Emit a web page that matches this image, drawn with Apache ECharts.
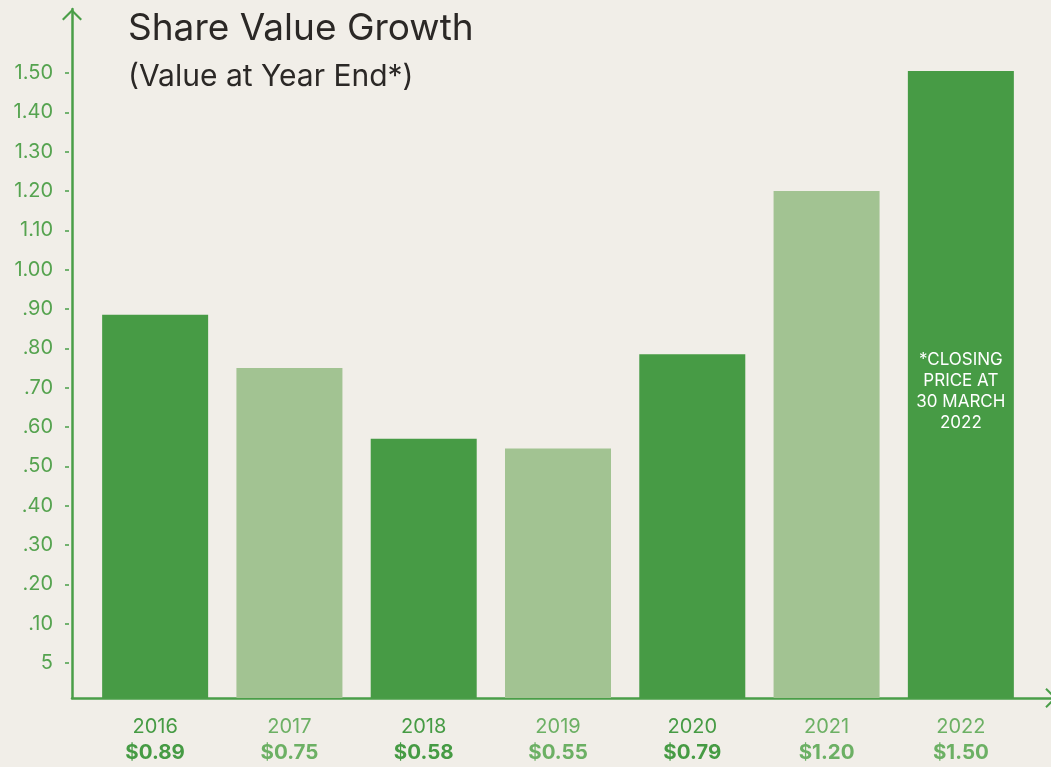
<!DOCTYPE html>
<html>
<head>
<meta charset="utf-8">
<title>Share Value Growth</title>
<script src="https://cdn.jsdelivr.net/npm/echarts@6/dist/echarts.min.js"></script>
<style>
  html, body { margin: 0; padding: 0; background: #f1eee8; }
  #chart { width: 1051px; height: 767px; }
</style>
</head>
<body>
<div id="chart"></div>
<script>
'use strict';

// data
var years = ['2016', '2017', '2018', '2019', '2020', '2021', '2022'];
var shareValues = [0.885, 0.75, 0.57, 0.545, 0.785, 1.20, 1.505];
var priceLabels = ['$0.89', '$0.75', '$0.58', '$0.55', '$0.79', '$1.20', '$1.50'];
var tickValues = [0, 0.1, 0.2, 0.3, 0.4, 0.5, 0.6, 0.7, 0.8, 0.9, 1.0, 1.1, 1.2, 1.3, 1.4, 1.5];
var tickLabels = ['5', '.10', '.20', '.30', '.40', '.50', '.60', '.70', '.80', '.90', '1.00', '1.10', '1.20', '1.30', '1.40', '1.50'];
var noteText = '*CLOSING\nPRICE AT\n30 MARCH\n2022';

// styles
var DARK = '#479b45';
var LIGHT = '#a2c392';
var LABEL_DARK = '#469b44';
var LABEL_LIGHT = '#6cb064';
var AXIS = '#4a9e48';
var FONT = 'Inter, "Noto Sans", sans-serif';
var barColors = [DARK, LIGHT, DARK, LIGHT, DARK, LIGHT, DARK];
var labelTone = ['d', 'l', 'd', 'l', 'd', 'l', 'l'];

var Y_MIN = -0.089;
var Y_MAX = 1.51;

// open chevron used as axis arrow
var chevron = 'path://M0,10 L10,0 L20,10 L18.5,11.4 L10,2.9 L1.5,11.4 Z';

var mainData = shareValues.map(function (v, i) {
    var item = { value: v, itemStyle: { color: barColors[i] } };
    if (i === years.length - 1) {
        item.label = {
            show: true,
            position: 'inside',
            offset: [0, 24],
            formatter: noteText,
            color: '#ffffff',
            fontFamily: FONT,
            fontSize: 17,
            lineHeight: 21
        };
    }
    return item;
});
// fills the strip below zero down to the axis line
var baseData = years.map(function (y, i) {
    return { value: Y_MIN, itemStyle: { color: barColors[i] } };
});

var option = {
    backgroundColor: '#f1eee8',
    animation: false,
    title: [
        {
            text: 'Share Value Growth',
            left: 123, top: 5,
            textStyle: { fontFamily: FONT, fontSize: 37, fontWeight: 'normal', color: '#2b2826' }
        },
        {
            text: '(Value at Year End*)',
            left: 123, top: 57,
            textStyle: { fontFamily: FONT, fontSize: 30, fontWeight: 'normal', color: '#2b2826' }
        }
    ],
    grid: [
        { left: 88, right: 23, top: 69, bottom: 69 },
        { left: 72, right: 0, top: 9, bottom: 69 }
    ],
    xAxis: [
        {
            gridIndex: 0,
            type: 'category',
            data: years,
            axisLine: { show: false },
            axisTick: { show: false },
            axisLabel: {
                margin: 16,
                formatter: function (val, idx) {
                    var t = labelTone[idx];
                    return '{y' + t + '|' + val + '}\n{p' + t + '|' + priceLabels[idx] + '}';
                },
                rich: {
                    yd: { fontFamily: FONT, fontSize: 20, color: LABEL_DARK, lineHeight: 26 },
                    yl: { fontFamily: FONT, fontSize: 20, color: LABEL_LIGHT, lineHeight: 26 },
                    pd: { fontFamily: FONT, fontSize: 20.5, fontWeight: 'bold', color: LABEL_DARK, lineHeight: 26 },
                    pl: { fontFamily: FONT, fontSize: 20.5, fontWeight: 'bold', color: LABEL_LIGHT, lineHeight: 26 }
                }
            }
        },
        {
            gridIndex: 1,
            type: 'value',
            min: 0, max: 1,
            axisLine: {
                show: true, onZero: false,
                lineStyle: { color: AXIS, width: 2.5 },
                symbol: ['none', chevron],
                symbolSize: [20, 11.4],
                symbolOffset: [0, 0]
            },
            axisTick: { show: false },
            axisLabel: { show: false },
            splitLine: { show: false }
        }
    ],
    yAxis: [
        {
            gridIndex: 0,
            type: 'value',
            min: Y_MIN,
            max: Y_MAX,
            offset: 19,
            axisLine: { show: false },
            splitLine: { show: false },
            axisTick: {
                show: true,
                length: 4,
                customValues: tickValues,
                lineStyle: { color: AXIS, width: 1.5 }
            },
            axisLabel: {
                margin: 16,
                customValues: tickValues,
                color: '#55a34f',
                fontFamily: FONT,
                fontSize: 20,
                formatter: function (v) {
                    return tickLabels[Math.round(v * 10)];
                }
            }
        },
        {
            gridIndex: 1,
            type: 'value',
            min: 0, max: 1,
            axisLine: {
                show: true, onZero: false,
                lineStyle: { color: AXIS, width: 2.5 },
                symbol: ['none', chevron],
                symbolSize: [20, 11.4],
                symbolOffset: [0, -5.7]
            },
            axisTick: { show: false },
            axisLabel: { show: false },
            splitLine: { show: false }
        }
    ],
    series: [
        {
            name: 'Share value',
            type: 'bar',
            xAxisIndex: 0,
            yAxisIndex: 0,
            barWidth: 106,
            barGap: '-100%',
            clip: false,
            data: mainData
        },
        {
            name: 'base',
            type: 'bar',
            xAxisIndex: 0,
            yAxisIndex: 0,
            barWidth: 106,
            barGap: '-100%',
            silent: true,
            data: baseData
        }
    ]
};

var myChart = echarts.init(document.getElementById('chart'));
myChart.setOption(option);
</script>
</body>
</html>
